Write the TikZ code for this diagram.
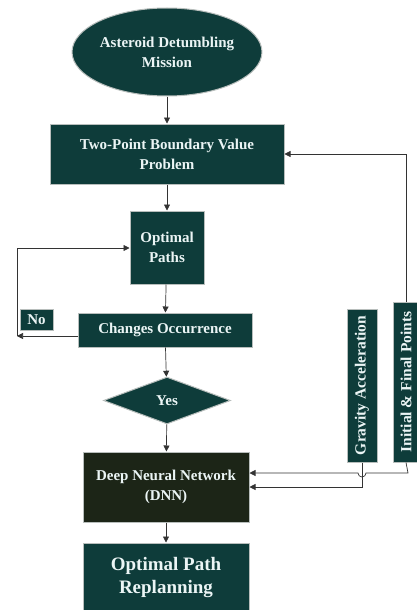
\documentclass[tikz,border=0pt]{standalone}
\usepackage{fontspec}
\setmainfont{Liberation Serif}
\usetikzlibrary{shapes.geometric,arrows.meta}
\definecolor{teal1}{HTML}{0E3C3A}
\definecolor{dnnc}{HTML}{1C2517}
\definecolor{edge}{HTML}{B8BEBC}
\begin{document}
\begin{tikzpicture}[x=1pt,y=-1pt,
  box/.style={draw=edge,line width=1pt,fill=teal1,text=white!92!teal,font=\bfseries\fontsize{15}{20}\selectfont,align=center,inner sep=0pt},
  vtext/.style={rotate=90,text=white!92!teal,font=\bfseries\fontsize{15.5}{18}\selectfont,inner sep=0pt},
  conn/.style={draw=black!80,line width=0.7pt,-{Triangle[length=6pt,width=6pt]}},
  plain/.style={draw=black!80,line width=0.7pt}]
\useasboundingbox (0,0) rectangle (417,610);
\node[ellipse,box,minimum width=178pt,minimum height=88pt] (mission) at (167,52) {Asteroid Detumbling\\Mission};
\node[box,minimum width=234pt,minimum height=60pt] (tpbvp) at (167,154) {Two-Point Boundary Value\\Problem};
\node[box,minimum width=74pt,minimum height=73pt] (opt) at (167,247.5) {Optimal\\Paths};
\node[box,minimum width=174pt,minimum height=34pt] (chg) at (165,330) {Changes Occurrence};
\node[box,minimum width=33pt,minimum height=21pt] (no) at (36.5,319.5) {No};
\node[diamond,box,aspect=2.7,minimum width=127pt,minimum height=47pt,inner sep=0pt] (yes) at (167,400.5) {Yes};
\node[box,fill=dnnc,minimum width=166pt,minimum height=70pt] (dnn) at (166,487) {Deep Neural Network\\(DNN)};
\node[box,minimum width=166pt,minimum height=68pt,font=\bfseries\fontsize{19}{23}\selectfont] (rep) at (166,577) {Optimal Path\\Replanning};
\node[box,minimum width=30pt,minimum height=153pt] (grav) at (362,385.5) {};
\node[vtext] (gravt) at (grav.center) {Gravity Acceleration};
\node[box,minimum width=26pt,minimum height=160pt] (init) at (406,382) {};
\node[vtext] (initt) at (init.center) {Initial \& Final Points};
\coordinate (c1) at (17,336);
\coordinate (c2) at (17,248);
\coordinate (h1) at (408,473);
\coordinate (h2) at (366,473);
\coordinate (g1) at (362,487);
% connectors
\draw[conn] (mission) -- (tpbvp);
\draw[conn] (tpbvp) -- (opt);
\draw[conn] (opt) -- (chg);
\draw[conn] (chg) -- (yes);
\draw[conn] (yes) -- (dnn);
\draw[conn] (dnn) -- (rep);
\draw[conn] (chg.west |- c1) -- (c1);
\draw[conn] (c1) -- (c2) -- (opt.west |- c2);
\draw[conn] (init.north) |- (tpbvp.east);
\draw[conn] (init.south) -- (h1) -- (h2) arc (0:180:4) -- (dnn.east |- h1);
\draw[conn] (grav.south) -- (g1) -- (dnn.east |- g1);
\end{tikzpicture}
\end{document}
